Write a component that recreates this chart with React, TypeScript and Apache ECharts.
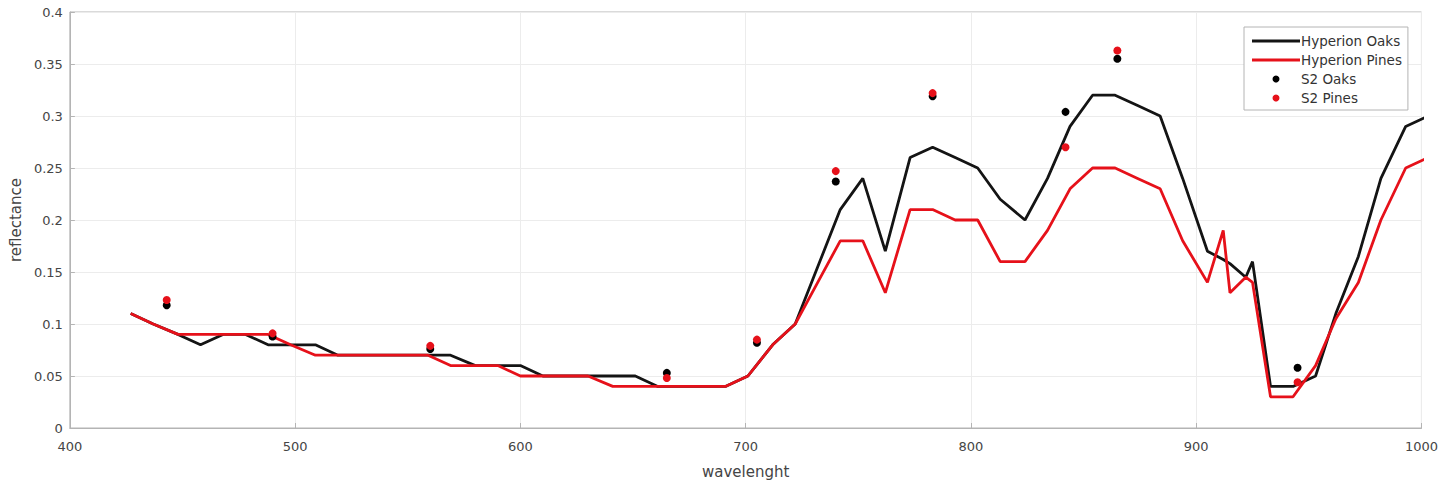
import React, { useEffect, useRef } from "react";
import * as echarts from "echarts";

const hyperionWl = [
  427, 437, 448, 458, 468, 478, 488, 498, 509, 519, 529, 539, 549, 559, 569, 580, 590, 600, 610, 620,
  630, 641, 651, 661, 671, 681, 691, 701, 712, 722, 732, 742, 752, 762, 773, 783, 793, 803, 813, 824,
  834, 844, 854, 864, 874, 884, 894, 905, 912, 915, 922, 925, 933, 943, 953, 962, 972, 982, 993, 1003,
];
const hyperionOaks = [
  0.11, 0.10, 0.09, 0.08, 0.09, 0.09, 0.08, 0.08, 0.08, 0.07, 0.07, 0.07, 0.07, 0.07, 0.07, 0.06, 0.06, 0.06, 0.05, 0.05,
  0.05, 0.05, 0.05, 0.04, 0.04, 0.04, 0.04, 0.05, 0.08, 0.10, 0.155, 0.21, 0.24, 0.17, 0.26, 0.27, 0.26, 0.25, 0.22, 0.20,
  0.24, 0.29, 0.32, 0.32, 0.31, 0.30, 0.24, 0.17, 0.162, 0.158, 0.145, 0.16, 0.04, 0.04, 0.05, 0.11, 0.165, 0.24, 0.29, 0.30,
];
const hyperionPines = [
  0.11, 0.10, 0.09, 0.09, 0.09, 0.09, 0.09, 0.08, 0.07, 0.07, 0.07, 0.07, 0.07, 0.07, 0.06, 0.06, 0.06, 0.05, 0.05, 0.05,
  0.05, 0.04, 0.04, 0.04, 0.04, 0.04, 0.04, 0.05, 0.08, 0.10, 0.14, 0.18, 0.18, 0.13, 0.21, 0.21, 0.20, 0.20, 0.16, 0.16,
  0.19, 0.23, 0.25, 0.25, 0.24, 0.23, 0.18, 0.14, 0.19, 0.13, 0.145, 0.14, 0.03, 0.03, 0.06, 0.105, 0.14, 0.20, 0.25, 0.26,
];

const s2Wl = [443, 490, 560, 665, 705, 740, 783, 842, 865, 945];
const s2Oaks = [0.118, 0.088, 0.076, 0.053, 0.082, 0.237, 0.319, 0.304, 0.355, 0.058];
const s2Pines = [0.123, 0.091, 0.079, 0.048, 0.085, 0.247, 0.322, 0.27, 0.363, 0.044];

const xTicks = [400, 500, 600, 700, 800, 900, 1000];
const yTicks = [0, 0.05, 0.1, 0.15, 0.2, 0.25, 0.3, 0.35, 0.4];

const BLACK = "#141414";
const RED = "#e6111a";
const FONT = "DejaVu Sans";
const TEXT = "#454545";
const LINE_ICON = "path://M0,0 L48,0 L48,3 L0,3 Z";

function pairs(xs: number[], ys: number[]) {
  return xs.map((x, i) => [x, ys[i]]);
}

export default function App() {
  const ref = useRef<HTMLDivElement>(null);
  useEffect(() => {
    if (!ref.current) return;
    const chart = echarts.init(ref.current, undefined, { renderer: "svg" });
    chart.setOption({
      animation: false,
      backgroundColor: "#ffffff",
      textStyle: { fontFamily: FONT },
      grid: {
        left: 69,
        right: 16,
        top: 12,
        bottom: 59,
        show: true,
        borderColor: "#b4b4b4",
        borderWidth: 1,
        backgroundColor: "transparent",
      },
      legend: {
        orient: "vertical",
        left: 1244,
        top: 27,
        padding: [7, 6, 5, 8],
        itemWidth: 48,
        itemHeight: 7,
        itemGap: 5,
        symbolKeepAspect: true,
        borderColor: "#b4b4b4",
        borderWidth: 1,
        backgroundColor: "#ffffff",
        textStyle: { fontFamily: FONT, fontSize: 13.5, color: "#333", padding: [0, 0, 0, -4] },
        data: [
          { name: "Hyperion Oaks", icon: LINE_ICON },
          { name: "Hyperion Pines", icon: LINE_ICON },
          { name: "S2 Oaks", icon: "circle" },
          { name: "S2 Pines", icon: "circle" },
        ],
      },
      xAxis: {
        type: "value",
        min: xTicks[0],
        max: xTicks[xTicks.length - 1],
        interval: 100,
        name: "wavelenght",
        nameLocation: "middle",
        nameGap: 36,
        nameTextStyle: { fontFamily: FONT, fontSize: 15, color: TEXT },
        axisLine: { show: true, lineStyle: { color: "#b4b4b4", width: 1 } },
        axisTick: { show: true, inside: true, length: 5, lineStyle: { color: "#b4b4b4" } },
        axisLabel: {
          fontFamily: FONT,
          fontSize: 13,
          color: TEXT,
          margin: 12,
          formatter: (v: number) => String(v),
        },
        splitLine: { show: true, lineStyle: { color: "#ececec", width: 1 } },
      },
      yAxis: {
        type: "value",
        min: yTicks[0],
        max: yTicks[yTicks.length - 1],
        interval: 0.05,
        name: "reflectance",
        nameLocation: "middle",
        nameGap: 44,
        nameTextStyle: { fontFamily: FONT, fontSize: 15, color: TEXT },
        axisLine: { show: true, lineStyle: { color: "#b4b4b4", width: 1 } },
        axisTick: { show: true, inside: true, length: 5, lineStyle: { color: "#b4b4b4" } },
        axisLabel: {
          fontFamily: FONT,
          fontSize: 13,
          color: TEXT,
          margin: 7,
          formatter: (v: number) => String(Math.round(v * 100) / 100),
        },
        splitLine: { show: true, lineStyle: { color: "#ececec", width: 1 } },
      },
      series: [
        {
          name: "Hyperion Oaks",
          type: "line",
          data: pairs(hyperionWl, hyperionOaks),
          symbol: "none",
          clip: true,
          color: BLACK,
          lineStyle: { color: BLACK, width: 2.8 },
          z: 2,
        },
        {
          name: "Hyperion Pines",
          type: "line",
          data: pairs(hyperionWl, hyperionPines),
          symbol: "none",
          clip: true,
          color: RED,
          lineStyle: { color: RED, width: 2.8 },
          z: 3,
        },
        {
          name: "S2 Oaks",
          type: "scatter",
          data: pairs(s2Wl, s2Oaks),
          symbol: "circle",
          symbolSize: 8,
          itemStyle: { color: "#000000", opacity: 1 },
          z: 4,
        },
        {
          name: "S2 Pines",
          type: "scatter",
          data: pairs(s2Wl, s2Pines),
          symbol: "circle",
          symbolSize: 8,
          itemStyle: { color: RED, opacity: 1 },
          z: 5,
        },
      ],
    });
    return () => chart.dispose();
  }, []);
  return (
    <div
      ref={ref}
      style={{ position: "absolute", left: 0, top: 0, width: 1441, height: 487 }}
    />
  );
}
